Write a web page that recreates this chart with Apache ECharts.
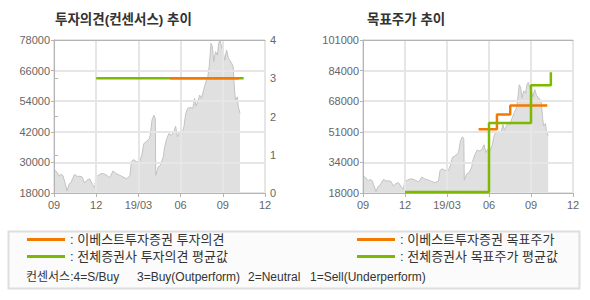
<!DOCTYPE html>
<html>
<head>
<meta charset="utf-8">
<script src="https://cdn.jsdelivr.net/npm/echarts@6/dist/echarts.min.js"></script>
<style>html,body{margin:0;padding:0;background:#fff}#c{width:590px;height:300px}</style>
</head>
<body>
<div id="c"></div>
<script>
// ---- data ----
const xTickLabels = ['09', '12', '19/03', '06', '09', '12'];
const priceYTicks = ['18000', '30000', '42000', '54000', '66000', '78000'];
const targetYTicks = ['18000', '34000', '51000', '68000', '84000', '101000'];
const opinionTicks = ['0', '1', '2', '3', '4'];

const priceDates = ['2018-09-01','2018-09-07','2018-09-12','2018-09-15','2018-09-20','2018-09-24','2018-09-29',
  '2018-10-03','2018-10-08','2018-10-15','2018-10-21','2018-10-27','2018-11-01','2018-11-06','2018-11-11',
  '2018-11-17','2018-11-23','2018-11-28','2018-11-30','2018-12-06','2018-12-12','2018-12-17','2018-12-24',
  '2018-12-31','2019-01-07','2019-01-14','2019-01-22','2019-01-29','2019-02-05','2019-02-12','2019-02-15',
  '2019-02-19','2019-02-25','2019-03-04','2019-03-09','2019-03-13','2019-03-18','2019-03-25','2019-03-27',
  '2019-03-31','2019-04-04','2019-04-07','2019-04-08','2019-04-13','2019-04-18','2019-04-24','2019-04-27',
  '2019-05-01','2019-05-06','2019-05-12','2019-05-17','2019-05-21','2019-05-25','2019-05-30','2019-06-04',
  '2019-06-08','2019-06-12','2019-06-16','2019-06-21','2019-06-27','2019-07-01','2019-07-04','2019-07-09',
  '2019-07-12','2019-07-16','2019-07-21','2019-07-26','2019-07-30','2019-08-02','2019-08-06','2019-08-09',
  '2019-08-12','2019-08-16','2019-08-20','2019-08-23','2019-08-26','2019-08-30','2019-09-02','2019-09-05',
  '2019-09-09','2019-09-13','2019-09-16','2019-09-20','2019-09-23','2019-09-26','2019-09-28','2019-10-02',
  '2019-10-04','2019-10-08'];
const priceValues = [27300,26250,24550,25300,24900,22300,18800,
  21400,22300,25300,24550,24550,24300,21900,23000,
  23600,21400,20000,24300,24950,25600,25600,24950,
  24000,26650,25600,24950,24300,23600,24550,30200,
  31100,30300,30200,33200,37400,38000,39350,40650,
  46550,48500,47200,24950,28200,28900,32150,36100,
  39000,41300,40650,42000,44200,40000,42000,41300,
  43950,49200,51150,51550,51150,55100,52050,54400,
  56400,55100,58600,61600,63600,67500,76700,75400,
  69500,73400,72100,76700,78000,74700,73400,70100,
  74100,70800,70100,68800,67500,58350,54400,55700,
  51800,49200];

const brokerOpinionName = '이베스트투자증권 투자의견';
const brokerOpinionDates = ['2019-05-09', '2019-10-06'];
const brokerOpinionValues = [3, 3];
const avgOpinionName = '전체증권사 투자의견 평균값';
const avgOpinionDates = ['2018-12-01', '2019-10-16'];
const avgOpinionValues = [3, 3];

const brokerTargetName = '이베스트투자증권 목표주가';
const brokerTargetDates = ['2019-05-09', '2019-06-18', '2019-07-17', '2019-10-06'];
const brokerTargetValues = [52600, 60600, 65500, 65500];
const avgTargetName = '전체증권사 목표주가 평균값';
const avgTargetDates = ['2018-12-01', '2019-06-01', '2019-09-01', '2019-10-14'];
const avgTargetValues = [18500, 56000, 76500, 83500];

const consensusNotes = ['컨센서스:4=S/Buy', '3=Buy(Outperform)', '2=Neutral', '1=Sell(Underperform)'];

// ---- helpers ----
function toMonth(d) {
  const [y, m, day] = d.split('-').map(Number);
  const dim = new Date(y, m, 0).getDate();
  return (y - 2018) * 12 + (m - 9) + (day - 1) / dim;
}
function pairs(dates, vals) { return dates.map((d, i) => [toMonth(d), vals[i]]); }

const FONT = '"Liberation Sans", "Noto Sans CJK KR", sans-serif';
const ORANGE = '#f27a00';
const GREEN = '#7cb900';
const AXIS = '#b4b4b4';
const GRIDC = '#e6e6e6';
const LABEL = { color: '#666', fontSize: 11, fontFamily: FONT };

function xBottom(gi) {
  return {
    type: 'value', gridIndex: gi, min: 0, max: 15, interval: 3, z: 3,
    axisLine: { show: true, lineStyle: { color: AXIS } },
    axisTick: { show: true, length: 4, lineStyle: { color: AXIS } },
    axisLabel: Object.assign({ margin: 6, formatter: v => xTickLabels[Math.round(v / 3)] }, LABEL),
    splitLine: { show: true, lineStyle: { color: GRIDC, width: 2 } }
  };
}
function xTop(gi) {
  return {
    type: 'value', gridIndex: gi, position: 'top', min: 0, max: 15, z: 3,
    axisLine: { show: true, lineStyle: { color: AXIS } },
    axisTick: { show: false }, axisLabel: { show: false }, splitLine: { show: false }
  };
}
function note(i, x) {
  return { type: 'text', x: x, y: 276.5,
    style: { text: consensusNotes[i], fill: '#333', font: '12px ' + FONT, verticalAlign: 'middle' } };
}

const chart = echarts.init(document.getElementById('c'), null, { renderer: 'svg' });
chart.setOption({
  animation: false,
  backgroundColor: '#fff',
  textStyle: { fontFamily: FONT },
  title: [
    { text: '투자의견(컨센서스) 추이', left: 55, top: 13, padding: 0,
      textStyle: { fontSize: 13.5, fontWeight: 'bold', color: '#333', fontFamily: FONT } },
    { text: '목표주가 추이', left: 367, top: 13, padding: 0,
      textStyle: { fontSize: 13.5, fontWeight: 'bold', color: '#333', fontFamily: FONT } }
  ],
  grid: [
    { left: 54, top: 40, width: 211, height: 153 },
    { left: 363, top: 40, width: 210, height: 153 }
  ],
  xAxis: [xBottom(0), xTop(0), xBottom(1), xTop(1)],
  yAxis: [
    { type: 'value', gridIndex: 0, min: 18000, max: 78000, interval: 12000, z: 3,
      axisLine: { show: true, lineStyle: { color: AXIS } },
      axisTick: { show: true, length: 3, lineStyle: { color: AXIS } },
      axisLabel: Object.assign({ margin: 4, formatter: v => priceYTicks[Math.round((v - 18000) / 12000)] }, LABEL),
      splitLine: { show: true, lineStyle: { color: GRIDC, width: 2 } } },
    { type: 'value', gridIndex: 0, position: 'right', min: 0, max: 4, interval: 1, z: 3,
      axisLine: { show: true, lineStyle: { color: AXIS } },
      axisTick: { show: true, length: 4, lineStyle: { color: AXIS } },
      axisLabel: Object.assign({ margin: 5, formatter: v => opinionTicks[Math.round(v)] }, LABEL),
      splitLine: { show: false } },
    { type: 'value', gridIndex: 1, min: 18000, max: 101000, interval: 16600, z: 3,
      axisLine: { show: true, lineStyle: { color: AXIS } },
      axisTick: { show: true, length: 3, lineStyle: { color: AXIS } },
      axisLabel: Object.assign({ margin: 4, formatter: v => targetYTicks[Math.round((v - 18000) / 16600)] }, LABEL),
      splitLine: { show: true, lineStyle: { color: GRIDC, width: 2 } } }
  ],
  legend: [
    { data: [brokerOpinionName, avgOpinionName], orient: 'vertical', left: 27, top: 233, padding: 0,
      icon: 'rect', itemWidth: 38, itemHeight: 3, itemGap: 4,
      formatter: n => ': ' + n, textStyle: { fontSize: 13, color: '#333', fontFamily: FONT } },
    { data: [brokerTargetName, avgTargetName], orient: 'vertical', left: 357, top: 233, padding: 0,
      icon: 'rect', itemWidth: 38, itemHeight: 3, itemGap: 4,
      formatter: n => ': ' + n, textStyle: { fontSize: 13, color: '#333', fontFamily: FONT } }
  ],
  graphic: [
    { type: 'rect', z: -10, shape: { x: 8.5, y: 231.5, width: 571, height: 57 },
      style: { fill: '#fbfbfb', stroke: '#dedede', lineWidth: 2 } },
    note(0, 26), note(1, 137), note(2, 248), note(3, 310)
  ],
  series: [
    { name: '주가', type: 'line', xAxisIndex: 0, yAxisIndex: 0, z: 2, symbol: 'none',
      data: pairs(priceDates, priceValues),
      lineStyle: { color: '#c2c2c2', width: 1 }, areaStyle: { color: '#e0e0e0', opacity: 1 } },
    { name: avgOpinionName, type: 'line', xAxisIndex: 0, yAxisIndex: 1, z: 5, symbol: 'none',
      data: pairs(avgOpinionDates, avgOpinionValues), color: GREEN, lineStyle: { color: GREEN, width: 2.5 } },
    { name: brokerOpinionName, type: 'line', xAxisIndex: 0, yAxisIndex: 1, z: 6, symbol: 'none',
      data: pairs(brokerOpinionDates, brokerOpinionValues), color: ORANGE, lineStyle: { color: ORANGE, width: 2.5 } },
    { name: '주가 ', type: 'line', xAxisIndex: 2, yAxisIndex: 2, z: 2, symbol: 'none',
      data: pairs(priceDates, priceValues),
      lineStyle: { color: '#c2c2c2', width: 1 }, areaStyle: { color: '#e0e0e0', opacity: 1 } },
    { name: brokerTargetName, type: 'line', xAxisIndex: 2, yAxisIndex: 2, z: 5, symbol: 'none', step: 'end',
      data: pairs(brokerTargetDates, brokerTargetValues), color: ORANGE, lineStyle: { color: ORANGE, width: 2.5 } },
    { name: avgTargetName, type: 'line', xAxisIndex: 2, yAxisIndex: 2, z: 6, symbol: 'none', step: 'end',
      data: pairs(avgTargetDates, avgTargetValues), color: GREEN, lineStyle: { color: GREEN, width: 2.5 } }
  ]
});
</script>
</body>
</html>
